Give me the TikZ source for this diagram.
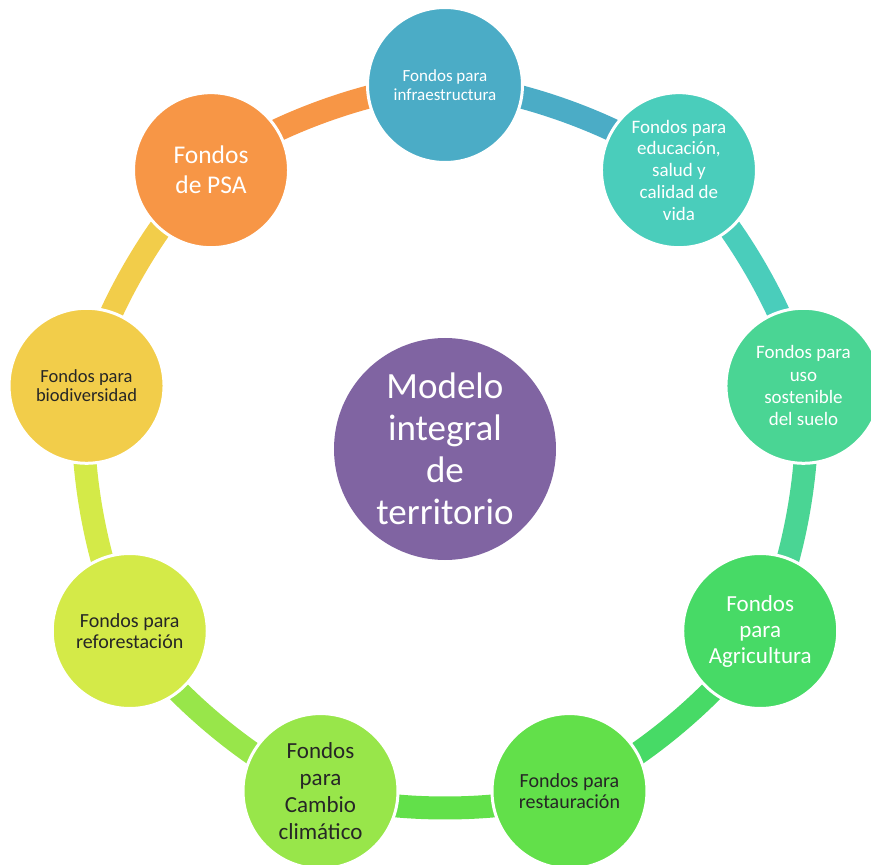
\documentclass[tikz,border=0pt]{standalone}
\usepackage{fontspec}
\setmainfont{Carlito}
\usetikzlibrary{backgrounds}
\definecolor{cInfra}{HTML}{4BACC6}
\definecolor{cEduc}{HTML}{4ACDBB}
\definecolor{cSuelo}{HTML}{4AD594}
\definecolor{cAgri}{HTML}{47DA66}
\definecolor{cRest}{HTML}{62E04A}
\definecolor{cClima}{HTML}{98E64A}
\definecolor{cRefor}{HTML}{D4EA48}
\definecolor{cBio}{HTML}{F2CD4A}
\definecolor{cPSA}{HTML}{F79646}
\definecolor{cModelo}{HTML}{8064A2}
\begin{document}
\begin{tikzpicture}[x=1pt,y=1pt,
    fondo/.style={circle,fill=#1,draw=white,line width=3pt,minimum size=155pt,
      inner sep=0pt,align=center,text=white},
    oscuro/.style={text=black!85},
    tam/.style 2 args={font=\fontsize{#1}{#2}\selectfont},
    seg/.style={draw=#1,line width=23pt}]
    \useasboundingbox (-445,-416) rectangle (426,449);
    % modelo central
    \node[circle,fill=cModelo,minimum size=222pt,inner sep=0pt,align=center,
      text=white,tam={37}{42}] (modelo) at (0,0) {Modelo\\integral\\de\\territorio};
    % fondos alrededor
    \node[fondo=cInfra,tam={17}{18.5}] (infra) at (90:364) {Fondos para\\infraestructura};
    \node[fondo=cEduc,tam={19}{21.7}] (educ) at (50:364) {Fondos para\\educación,\\salud y\\calidad de\\vida};
    \node[fondo=cSuelo,tam={19}{22.3}] (suelo) at (10:364) {Fondos para\\uso\\sostenible\\del suelo};
    \node[fondo=cAgri,tam={23}{26}] (agri) at (-30:364) {Fondos\\para\\Agricultura};
    \node[fondo=cRest,oscuro,tam={20}{21.7}] (rest) at (-70:364) {Fondos para\\restauración};
    \node[fondo=cClima,oscuro,tam={23}{26.7}] (clima) at (-110:364) {Fondos\\para\\Cambio\\climático};
    \node[fondo=cRefor,oscuro,tam={20}{21.7}] (refor) at (-150:364) {Fondos para\\reforestación};
    \node[fondo=cBio,oscuro,tam={18.5}{19}] (bio) at (170:364) {Fondos para\\biodiversidad};
    \node[fondo=cPSA,tam={25.5}{30}] (psa) at (130:364) {Fondos\\de PSA};
    % anillo
    \begin{pgfonlayer}{background}
      \draw[seg=cInfra] (infra.center) to[bend left=20,looseness=0.68] (educ.center);
      \draw[seg=cEduc] (educ.center) to[bend left=20,looseness=0.68] (suelo.center);
      \draw[seg=cSuelo] (suelo.center) to[bend left=20,looseness=0.68] (agri.center);
      \draw[seg=cAgri] (agri.center) to[bend left=20,looseness=0.68] (rest.center);
      \draw[seg=cRest] (rest.center) to[bend left=20,looseness=0.68] (clima.center);
      \draw[seg=cClima] (clima.center) to[bend left=20,looseness=0.68] (refor.center);
      \draw[seg=cRefor] (refor.center) to[bend left=20,looseness=0.68] (bio.center);
      \draw[seg=cBio] (bio.center) to[bend left=20,looseness=0.68] (psa.center);
      \draw[seg=cPSA] (psa.center) to[bend left=20,looseness=0.68] (infra.center);
    \end{pgfonlayer}
\end{tikzpicture}
\end{document}
